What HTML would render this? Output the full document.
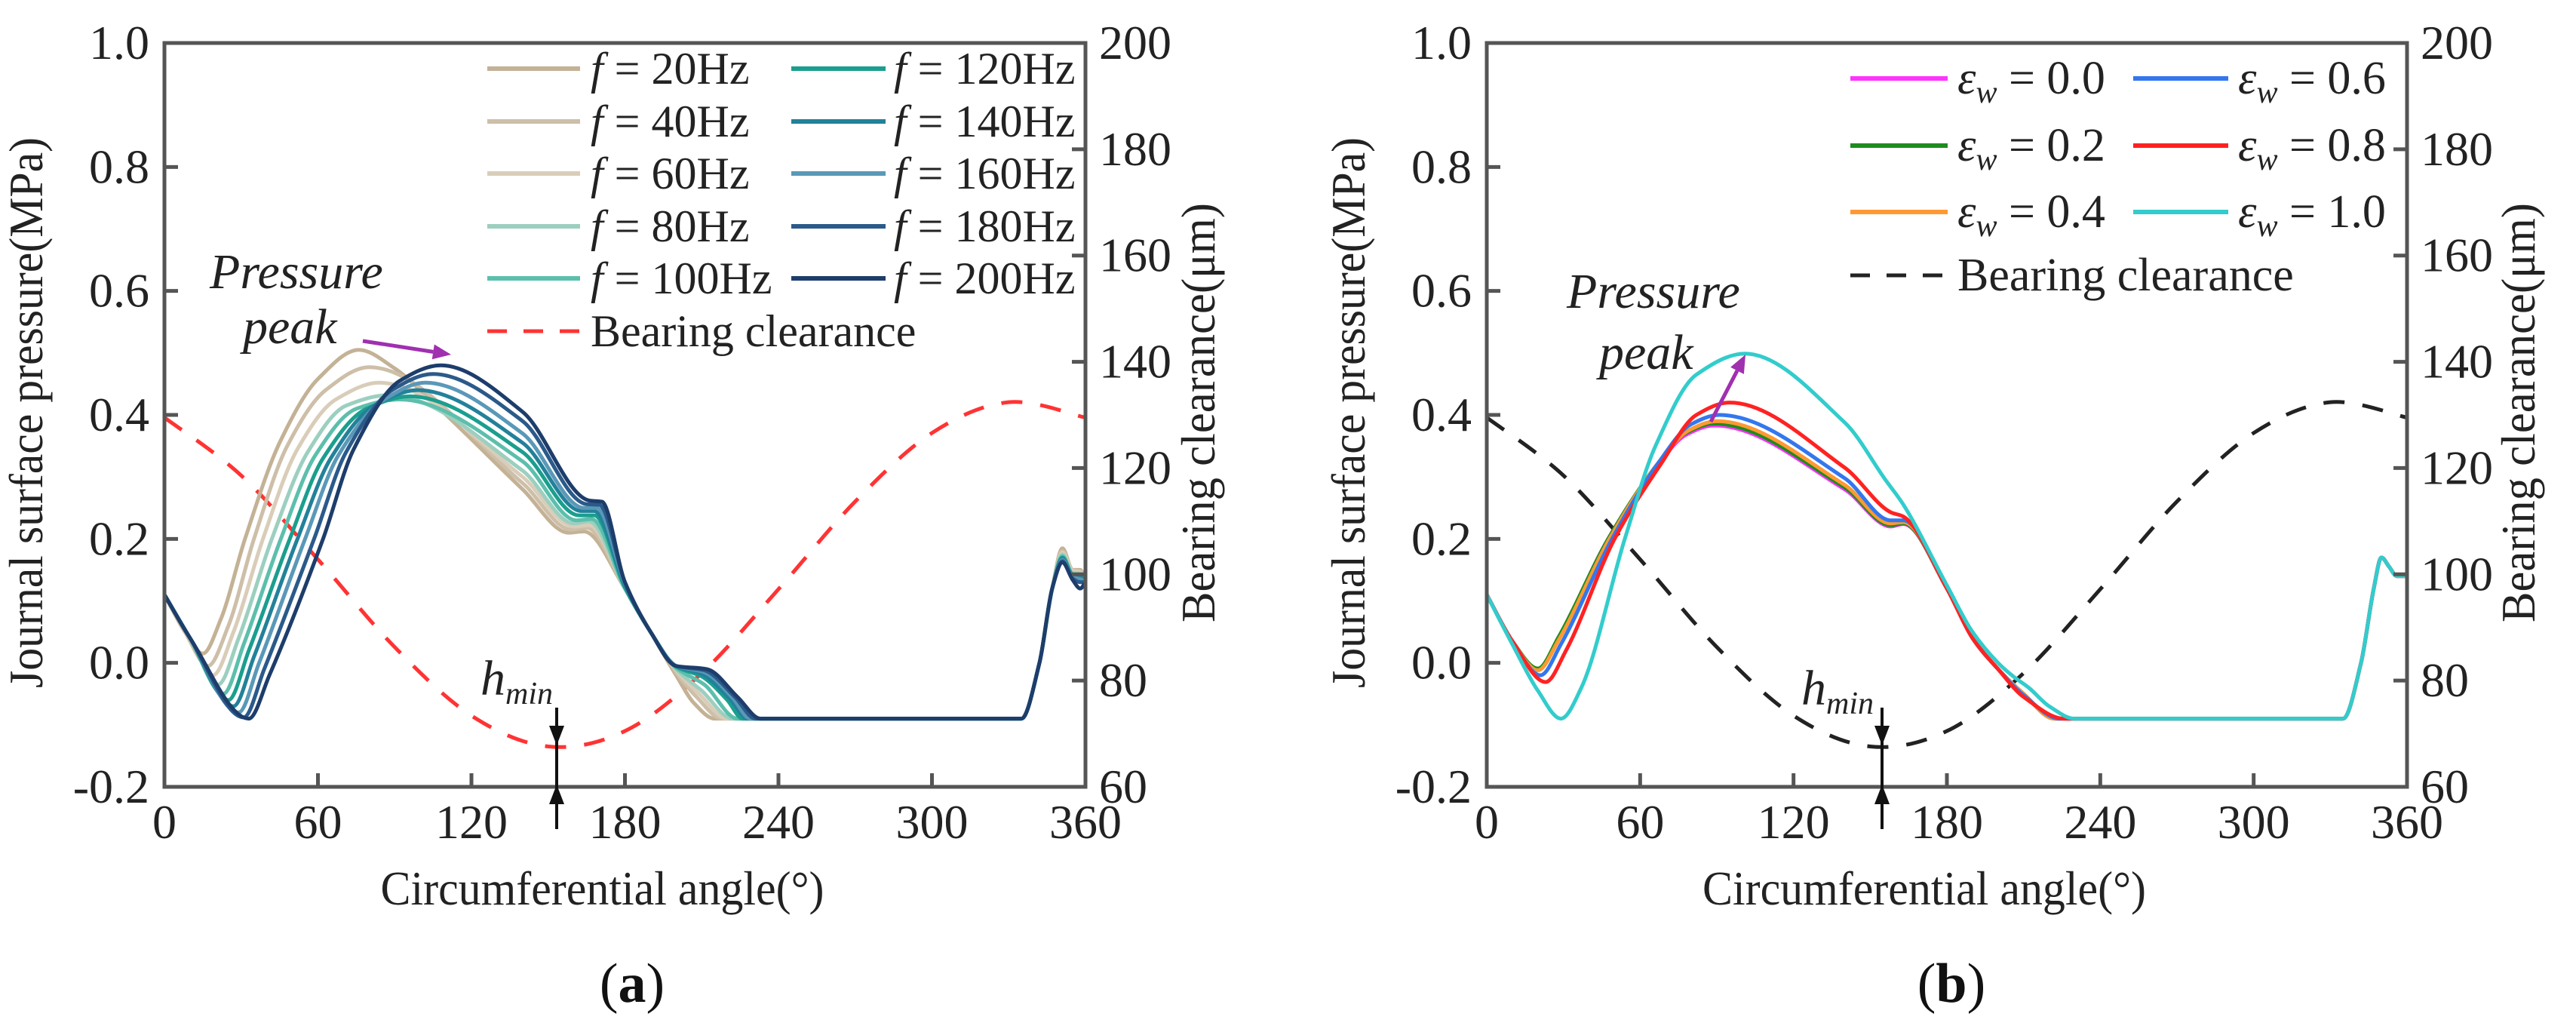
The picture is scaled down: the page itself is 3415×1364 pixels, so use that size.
<!DOCTYPE html>
<html><head><meta charset="utf-8">
<style>
html,body{margin:0;padding:0;background:#fff;}
svg{display:block;}
svg text{font-family:"Liberation Serif","DejaVu Serif","Times New Roman",Times,serif;}
</style></head>
<body>
<svg id="fig" width="3415" height="1364" viewBox="0 0 3415 1364" xmlns="http://www.w3.org/2000/svg">
<rect x="0" y="0" width="3415" height="1364" fill="#fff"/>
<g id="panelA"></g>
<g id="panelB"></g>
</svg>
<script>
// ---- shared axis data ----
const xTicks = [0, 60, 120, 180, 240, 300, 360];
const yTicksLeft = [-0.2, 0.0, 0.2, 0.4, 0.6, 0.8, 1.0];
const yTickLabelsLeft = ["-0.2", "0.0", "0.2", "0.4", "0.6", "0.8", "1.0"];
const yTicksRight = [60, 80, 100, 120, 140, 160, 180, 200];

// bearing clearance (µm) vs angle
const clearanceAngles = [0, 30, 60, 90, 120, 150, 180, 210, 240, 270, 300, 330, 360];
const clearanceValues = [129.5, 118.6, 102.8, 86.3, 73.4, 67.6, 70.5, 81.4, 97.2, 113.7, 126.6, 132.4, 129.5];

// ---- panel (a): frequency series ----
const freqLabels = ["20Hz","40Hz","60Hz","80Hz","100Hz","120Hz","140Hz","160Hz","180Hz","200Hz"];
const freqColors = ["#c4b296","#cdbfa8","#d9cdb9","#9ccfbf","#5cbfac","#1b9e8e","#23819a","#5a98b8","#2b5a8a","#1d3d6b"];
const f20 = [[0,.11],[8,.05],[15,.015],[22,.07],[31.5,.2],[45,.355],[60,.458],[76,.505],[90,.475],[105,.42],[140,.28],[158,.21],[164,.212],[180,.12],[190,.05],[200,-.02],[207,-.065],[215,-.09],[335,-.09],[342,0],[347,.12],[351,.185],[355,.15],[358,.15],[360,.13]];
const f40 = [[0,.11],[8,.05],[17,-.005],[25,.06],[35,.2],[48,.35],[63,.44],[80,.477],[140,.29],[159,.215],[165,.218],[180,.12],[190,.05],[200,-.015],[208,-.055],[218,-.09],[335,-.09],[342,0],[347,.12],[351,.18],[355,.15],[358,.148],[360,.13]];
const f60 = [[0,.11],[10,.04],[19,-.02],[27,.05],[38.5,.2],[52,.345],[67,.425],[84,.452],[140,.30],[160,.22],[166,.222],[180,.12],[190,.05],[200,-.012],[209,-.05],[220,-.09],[335,-.09],[342,0],[347,.12],[351,.178],[355,.148],[358,.146],[360,.13]];
const f80 = [[0,.11],[10,.04],[21,-.035],[29,.04],[42,.2],[56,.34],[71,.415],[88,.432],[140,.31],[160,.225],[166,.228],[180,.12],[190,.05],[200,-.01],[210,-.045],[222,-.09],[335,-.09],[342,0],[347,.12],[351,.175],[355,.145],[358,.144],[360,.13]];
const f100 = [[0,.11],[10,.04],[23,-.05],[31,.03],[45.5,.2],[59,.335],[75,.41],[92,.425],[140,.325],[161,.23],[167,.232],[180,.12],[190,.05],[200,-.008],[211,-.035],[224,-.09],[335,-.09],[342,0],[347,.12],[351,.172],[355,.143],[358,.142],[360,.13]];
const f120 = [[0,.11],[10,.04],[25,-.06],[33,.02],[49,.2],[62,.33],[79,.41],[96,.43],[140,.34],[162,.238],[168,.238],[180,.122],[190,.05],[200,-.006],[210,-.022],[220,-.06],[226,-.09],[335,-.09],[342,0],[347,.12],[351,.17],[355,.142],[358,.14],[360,.13]];
const f140 = [[0,.11],[10,.04],[27,-.07],[35,.01],[52,.2],[65,.33],[82,.415],[99,.44],[140,.355],[163,.245],[168,.245],[180,.125],[190,.05],[200,-.005],[210,-.018],[221,-.058],[228,-.09],[335,-.09],[342,0],[347,.12],[351,.168],[355,.14],[358,.138],[360,.13]];
const f160 = [[0,.11],[10,.04],[29,-.08],[37,0],[55,.2],[68,.335],[86,.425],[102,.452],[140,.37],[164,.25],[169,.25],[180,.128],[190,.05],[200,-.005],[211,-.015],[222,-.056],[229,-.09],[335,-.09],[342,0],[347,.12],[351,.166],[355,.138],[358,.135],[360,.13]];
const f180 = [[0,.11],[10,.04],[31,-.088],[39,-.01],[58.5,.2],[71,.34],[89,.44],[105,.466],[140,.39],[165,.256],[170,.255],[180,.13],[190,.05],[200,-.005],[211,-.012],[223,-.055],[231,-.09],[335,-.09],[342,0],[347,.12],[351,.164],[355,.136],[358,.13],[360,.13]];
const f200 = [[0,.11],[10,.04],[33,-.09],[41,-.02],[62,.2],[74,.345],[92,.455],[108,.48],[140,.405],[166,.262],[171,.26],[180,.13],[190,.05],[200,-.005],[212,-.01],[224,-.055],[233,-.09],[335,-.09],[342,0],[347,.12],[351,.162],[355,.134],[358,.12],[360,.13]];
const freqSeries = [f20, f40, f60, f80, f100, f120, f140, f160, f180, f200];

// ---- panel (b): eccentricity series ----
const epsLabels = ["0.0","0.2","0.4","0.6","0.8","1.0"];
const epsColors = ["#ff33ff","#1e8c1e","#ff9933","#3377ee","#ff2222","#33cccc"];
const e00 = [[0,.11],[10,.035],[20,-.01],[28,.04],[47.5,.2],[67,.32],[78,.368],[89,.383],[140,.28],[158,.22],[163,.224],[180,.12],[190,.04],[200,-.01],[210,-.05],[222,-.09],[335,-.09],[342,0],[347,.12],[350,.17],[353,.155],[356,.14],[360,.14]];
const e02 = [[0,.11],[10,.035],[20,-.009],[28,.041],[47.5,.2],[67,.322],[78,.371],[89,.386],[140,.283],[158,.222],[163,.225],[180,.12],[190,.04],[200,-.01],[210,-.05],[222,-.09],[335,-.09],[342,0],[347,.12],[350,.17],[353,.155],[356,.14],[360,.14]];
const e04 = [[0,.11],[10,.035],[20,-.012],[28,.036],[48,.2],[67,.322],[79,.375],[90,.39],[140,.287],[158,.225],[163,.227],[180,.12],[190,.04],[200,-.01],[210,-.05],[222,-.09],[335,-.09],[342,0],[347,.12],[350,.17],[353,.155],[356,.14],[360,.14]];
const e06 = [[0,.11],[10,.035],[21,-.02],[29,.03],[49,.2],[67,.322],[80,.385],[91,.40],[140,.298],[158,.23],[163,.23],[180,.12],[190,.04],[200,-.01],[210,-.052],[224,-.09],[335,-.09],[342,0],[347,.12],[350,.17],[353,.155],[356,.14],[360,.14]];
const e08 = [[0,.11],[10,.035],[23,-.031],[31,.02],[50,.2],[68,.32],[82,.40],[95,.42],[140,.315],[158,.243],[163,.236],[180,.12],[190,.04],[200,-.01],[210,-.055],[226,-.09],[335,-.09],[342,0],[347,.12],[350,.17],[353,.155],[356,.14],[360,.14]];
const e10 = [[0,.11],[10,.03],[20,-.045],[29,-.09],[37,-.04],[54,.2],[66,.35],[82,.465],[101,.499],[140,.388],[156,.295],[163,.255],[180,.125],[190,.05],[200,0],[206,-.022],[212,-.04],[220,-.07],[230,-.09],[335,-.09],[342,0],[347,.12],[350,.17],[353,.155],[356,.14],[360,.14]];
const epsSeries = [e00, e02, e04, e06, e08, e10];

// ---- helpers ----
const NS = "http://www.w3.org/2000/svg";
const TOP = 57, BOT = 1043;
const FONT = "'Liberation Serif', 'DejaVu Serif', 'Times New Roman', Times, serif";
function mk(parent, tag, attrs, text) {
  const el = document.createElementNS(NS, tag);
  for (const k in attrs) el.setAttribute(k, attrs[k]);
  if (tag === "text") el.style.fontFamily = FONT;
  if (text !== undefined) el.textContent = text;
  parent.appendChild(el);
  return el;
}
function scales(L, R) {
  return {
    x: a => L + (a / 360) * (R - L),
    y: p => BOT - ((p + 0.2) / 1.2) * (BOT - TOP),
    yr: h => BOT - ((h - 60) / 140) * (BOT - TOP)
  };
}
function monoPath(px) {
  const n = px.length;
  const d = [], m = new Array(n);
  for (let i = 0; i < n - 1; i++) d.push((px[i+1][1] - px[i][1]) / (px[i+1][0] - px[i][0]));
  m[0] = d[0]; m[n-1] = d[n-2];
  for (let i = 1; i < n - 1; i++) {
    if (d[i-1] * d[i] <= 0) m[i] = 0;
    else { m[i] = 2 / (1 / d[i-1] + 1 / d[i]); }
  }
  let s = "M" + px[0][0].toFixed(1) + "," + px[0][1].toFixed(1);
  for (let i = 0; i < n - 1; i++) {
    const h = px[i+1][0] - px[i][0];
    const c1x = px[i][0] + h / 3, c1y = px[i][1] + m[i] * h / 3;
    const c2x = px[i+1][0] - h / 3, c2y = px[i+1][1] - m[i+1] * h / 3;
    s += " C" + c1x.toFixed(1) + "," + c1y.toFixed(1) + " " + c2x.toFixed(1) + "," + c2y.toFixed(1) + " " + px[i+1][0].toFixed(1) + "," + px[i+1][1].toFixed(1);
  }
  return s;
}
function catmull(px) {
  let s = "M" + px[0][0] + "," + px[0][1];
  for (let i = 0; i < px.length - 1; i++) {
    const p0 = px[Math.max(0, i-1)], p1 = px[i], p2 = px[i+1], p3 = px[Math.min(px.length-1, i+2)];
    s += " C" + (p1[0] + (p2[0]-p0[0])/6) + "," + (p1[1] + (p2[1]-p0[1])/6) + " " + (p2[0] - (p3[0]-p1[0])/6) + "," + (p2[1] - (p3[1]-p1[1])/6) + " " + p2[0] + "," + p2[1];
  }
  return s;
}

function drawAxes(g, L, R, sc, yTitleX, yrTitleX) {
  const fr = mk(g, "rect", {x: L, y: TOP, width: R - L, height: BOT - TOP, fill: "none", stroke: "#555", "stroke-width": 5});
  
  
  xTicks.forEach(t => {
    const x = sc.x(t);
    const tk = mk(g, "line", {x1: x, y1: BOT, x2: x, y2: BOT - 18, stroke: "#555", "stroke-width": 5});
    
    
    const lb = mk(g, "text", {x: x, y: 1111, "font-size": 64, "text-anchor": "middle", fill: "#222"}, String(t));
    
    
  });
  yTicksLeft.forEach((t, i) => {
    const y = sc.y(t);
    const tk = mk(g, "line", {x1: L, y1: y, x2: L + 18, y2: y, stroke: "#555", "stroke-width": 5});
    
    
    const lb = mk(g, "text", {x: L - 20, y: y + 21, "font-size": 64, "text-anchor": "end", fill: "#222"}, yTickLabelsLeft[i]);
    
    
  });
  yTicksRight.forEach(t => {
    const y = sc.yr(t);
    const tk = mk(g, "line", {x1: R, y1: y, x2: R - 18, y2: y, stroke: "#555", "stroke-width": 5});
    
    
    const lb = mk(g, "text", {x: R + 18, y: y + 21, "font-size": 64, "text-anchor": "start", fill: "#222"}, String(t));
    
    
  });
  const xt = mk(g, "text", {x: (L + R) / 2 - 30, y: 1199, "font-size": 64, "text-anchor": "middle", fill: "#222", textLength: 588, lengthAdjust: "spacingAndGlyphs"}, "Circumferential angle(°)");
  
  
  const yt = mk(g, "text", {x: 0, y: 0, "font-size": 64, "text-anchor": "middle", fill: "#222", textLength: 730, lengthAdjust: "spacingAndGlyphs", transform: "translate(" + yTitleX + ",547) rotate(-90)"}, "Journal surface pressure(MPa)");
  
  
  const yrt = mk(g, "text", {x: 0, y: 0, "font-size": 64, "text-anchor": "middle", fill: "#222", textLength: 556, lengthAdjust: "spacingAndGlyphs", transform: "translate(" + yrTitleX + ",547) rotate(-90)"}, "Bearing clearance(μm)");
  
  
}

function drawClearance(g, sc, color) {
  const px = clearanceAngles.map((a, i) => [sc.x(a), sc.yr(clearanceValues[i])]);
  const p = mk(g, "path", {d: catmull(px), fill: "none", stroke: color, "stroke-width": 5, "stroke-dasharray": "28 24"});
  
  
}

function drawSeries(g, sc, series, colors, names, w) {
  series.forEach((s, i) => {
    const px = s.map(pt => [sc.x(pt[0]), sc.y(pt[1])]);
    const p = mk(g, "path", {d: monoPath(px), fill: "none", stroke: colors[i], "stroke-width": w, "stroke-linejoin": "round"});
    
    
  });
}

function drawHmin(g, x, tx, ty) {
  const ln = mk(g, "line", {x1: x, y1: 938, x2: x, y2: 1099, stroke: "#111", "stroke-width": 4});
  
  
  const a1 = mk(g, "path", {d: "M" + (x-10) + ",962 L" + (x+10) + ",962 L" + x + ",988 Z", fill: "#111"});
  
  
  const a2 = mk(g, "path", {d: "M" + (x-10) + ",1066 L" + (x+10) + ",1066 L" + x + ",1040 Z", fill: "#111"});
  
  
  const t = mk(g, "text", {x: tx, y: ty, "font-size": 66, "font-style": "italic", fill: "#222"});
  
  
  mk(t, "tspan", {}, "h");
  mk(t, "tspan", {"font-size": 42, dy: 12}, "min");
}

function drawPeakNote(g, x1, y1, x2, y2) {
  const t1 = mk(g, "text", {x: x1, y: y1, "font-size": 66, "font-style": "italic", fill: "#222"}, "Pressure");
  
  
  const t2 = mk(g, "text", {x: x2, y: y2, "font-size": 66, "font-style": "italic", fill: "#222"}, "peak");
  
  
}
function arrow(g, x1, y1, x2, y2) {
  const ang = Math.atan2(y2 - y1, x2 - x1);
  const hl = 24, hw = 10;
  const bx = x2 - hl * Math.cos(ang), by = y2 - hl * Math.sin(ang);
  const l = mk(g, "line", {x1: x1, y1: y1, x2: bx, y2: by, stroke: "#a030b0", "stroke-width": 5});
  
  
  const px = -Math.sin(ang) * hw, py = Math.cos(ang) * hw;
  const h = mk(g, "path", {d: "M" + x2 + "," + y2 + " L" + (bx + px) + "," + (by + py) + " L" + (bx - px) + "," + (by - py) + " Z", fill: "#a030b0"});
  
  
}

// ---- Panel A ----
(function () {
  const g = document.getElementById("panelA");
  const L = 218, R = 1439, sc = scales(L, R);
  drawClearance(g, sc, "#ff3333");
  drawSeries(g, sc, freqSeries, freqColors, freqLabels.map(l => "pressure-line-f" + l.toLowerCase()), 5);
  drawAxes(g, L, R, sc, 56, 1610);
  const rowsY = [91, 161, 230, 300, 369, 439];
  freqLabels.forEach((lab, i) => {
    const col = i < 5 ? 0 : 1, row = i % 5;
    const lx1 = col ? 1049 : 646, lx2 = col ? 1174 : 769, tx = col ? 1185 : 783;
    const y = rowsY[row];
    const ln = mk(g, "line", {x1: lx1, y1: y, x2: lx2, y2: y, stroke: freqColors[i], "stroke-width": 6});
    
    
    const t = mk(g, "text", {x: tx, y: y + 20, "font-size": 60, fill: "#222"});
    
    
    mk(t, "tspan", {"font-style": "italic"}, "f");
    mk(t, "tspan", {}, " = " + lab);
  });
  const bl = mk(g, "line", {x1: 646, y1: rowsY[5], x2: 769, y2: rowsY[5], stroke: "#ff3333", "stroke-width": 5, "stroke-dasharray": "26 22"});
  
  
  const bt = mk(g, "text", {x: 783, y: rowsY[5] + 20, "font-size": 60, fill: "#222"}, "Bearing clearance");
  
  
  drawPeakNote(g, 278, 382, 322, 455);
  arrow(g, 481, 452, 598, 470);
  drawHmin(g, 738, 637, 921);
  const cap = mk(g, "text", {x: 838, y: 1328, "font-size": 74, "text-anchor": "middle", fill: "#111"});
  
  
  mk(cap, "tspan", {}, "(");
  mk(cap, "tspan", {"font-weight": "bold"}, "a");
  mk(cap, "tspan", {}, ")");
})();

// ---- Panel B ----
(function () {
  const g = document.getElementById("panelB");
  const L = 1971, R = 3191, sc = scales(L, R);
  drawClearance(g, sc, "#222");
  drawSeries(g, sc, epsSeries, epsColors, epsLabels.map(l => "pressure-line-eps-" + l.replace(".", "")), 5);
  drawAxes(g, L, R, sc, 1809, 3360);
  const rowsY = [104, 193, 281, 365];
  epsLabels.forEach((lab, i) => {
    const col = i < 3 ? 0 : 1, row = i % 3;
    const lx1 = col ? 2828 : 2453, lx2 = col ? 2954 : 2582, tx = col ? 2967 : 2595;
    const y = rowsY[row];
    const ln = mk(g, "line", {x1: lx1, y1: y, x2: lx2, y2: y, stroke: epsColors[i], "stroke-width": 6});
    
    
    const t = mk(g, "text", {x: tx, y: y + 20, "font-size": 62, fill: "#222"});
    
    
    mk(t, "tspan", {"font-style": "italic"}, "ε");
    mk(t, "tspan", {"font-style": "italic", "font-size": 42, dy: 12}, "w");
    mk(t, "tspan", {dy: -12}, " = " + lab);
  });
  const bl = mk(g, "line", {x1: 2453, y1: rowsY[3], x2: 2582, y2: rowsY[3], stroke: "#222", "stroke-width": 5, "stroke-dasharray": "26 22"});
  
  
  const bt = mk(g, "text", {x: 2595, y: rowsY[3] + 20, "font-size": 62, fill: "#222"}, "Bearing clearance");
  
  
  drawPeakNote(g, 2077, 408, 2120, 489);
  arrow(g, 2268, 559, 2314, 470);
  drawHmin(g, 2495, 2388, 934);
  const cap = mk(g, "text", {x: 2587, y: 1328, "font-size": 74, "text-anchor": "middle", fill: "#111"});
  
  
  mk(cap, "tspan", {}, "(");
  mk(cap, "tspan", {"font-weight": "bold"}, "b");
  mk(cap, "tspan", {}, ")");
})();
</script>
</body></html>
